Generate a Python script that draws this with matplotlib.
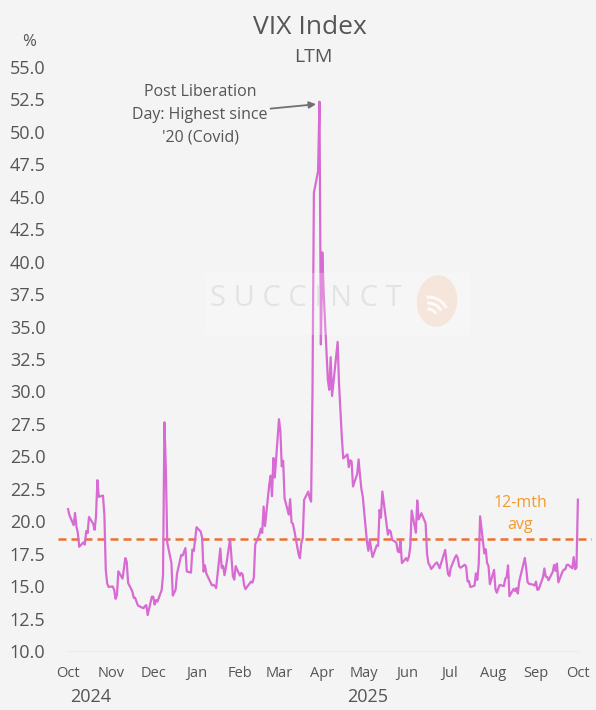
import numpy as np
import pandas as pd
import matplotlib
matplotlib.use("Agg")
import matplotlib.pyplot as plt
import matplotlib.dates as mdates
from matplotlib.patches import Rectangle, Ellipse, Arc

plt.rcParams['font.family'] = ['Open Sans', 'DejaVu Sans']

# ---- data: VIX daily closes, Oct 10 2024 - Oct 10 2025 ----
start_date = "2024-10-10"
end_date = "2025-10-10"
market_holidays = ["2024-11-28", "2024-12-25", "2025-01-01", "2025-01-09", "2025-01-20",
                   "2025-02-17", "2025-04-18", "2025-05-26", "2025-06-19", "2025-07-04",
                   "2025-09-01"]

oct24 = [20.93, 20.46, 19.70, 20.64, 19.58, 19.11, 18.03, 18.37, 18.20, 19.24, 19.08, 20.33,
         19.80, 19.34, 20.35, 23.16]
nov24 = [21.88, 21.98, 20.49, 16.27, 15.20, 14.94, 14.97, 14.71, 14.02, 14.31, 16.14, 15.58,
         16.35, 17.16, 16.87, 15.24, 14.60, 14.10, 14.10, 13.51]
dec24 = [13.34, 13.30, 13.45, 13.54, 12.77, 14.19, 14.18, 13.58, 13.92, 13.81, 14.69, 15.87,
         27.62, 24.09, 18.36, 16.78, 14.27, 14.73, 15.95, 17.40, 17.35]
jan25 = [17.93, 16.13, 16.04, 17.82, 17.70, 19.54, 19.19, 18.71, 16.12, 16.60, 15.97, 15.06,
         15.10, 15.02, 14.85, 17.90, 16.41, 16.56, 15.84, 16.43]
feb25 = [18.62, 17.21, 15.77, 15.50, 16.54, 15.81, 16.02, 15.89, 15.10, 14.77, 15.35, 15.27,
         15.66, 18.21, 18.98, 19.43, 19.10, 21.13, 19.63]
mar25 = [22.78, 23.51, 21.93, 24.87, 23.37, 27.86, 26.92, 24.23, 24.66, 21.77, 20.51, 21.70,
         19.90, 19.80, 19.28, 17.48, 17.15, 18.33, 18.69, 21.65, 22.28]
apr25 = [21.77, 21.51, 30.02, 45.31, 46.98, 52.33, 33.62, 40.72, 37.56, 30.89, 30.12, 32.64,
         29.65, 33.82, 30.57, 28.45, 26.47, 24.84, 25.15, 24.17, 24.70]
may25 = [24.60, 22.68, 23.64, 24.76, 23.55, 22.48, 21.90, 18.39, 17.72, 18.62, 17.83, 17.24,
         18.14, 18.09, 20.87, 20.28, 22.29, 18.96, 19.31, 19.18, 18.57]
jun25 = [18.36, 17.69, 17.61, 18.48, 16.77, 17.16, 16.95, 17.26, 18.02, 20.82, 19.11, 21.60,
         20.14, 20.62, 19.83, 17.48, 16.76, 16.59, 16.32, 16.73]
jul25 = [16.83, 16.64, 16.38, 17.79, 16.81, 15.94, 15.78, 16.40, 17.20, 17.38, 17.16, 16.52,
         16.41, 16.65, 16.50, 15.37, 15.39, 14.93, 15.03, 15.98, 15.48, 16.72]
aug25 = [20.38, 17.52, 17.85, 16.77, 16.57, 15.15, 16.25, 14.73, 14.49, 14.83, 15.09, 15.00,
         15.57, 15.69, 16.60, 14.22, 14.79, 14.62, 14.85, 14.43, 15.36]
sep25 = [17.17, 16.35, 15.30, 15.18, 15.11, 15.04, 15.35, 14.71, 14.76, 15.69, 16.36, 15.72,
         15.70, 15.45, 16.10, 16.64, 16.18, 16.74, 15.29, 16.12, 16.28]
oct25 = [16.29, 16.63, 16.65, 16.37, 17.24, 16.30, 16.43, 21.66]

avg_12m = 18.62

month_ticks = ["2024-10-10", "2024-11-10", "2024-12-10", "2025-01-10", "2025-02-10",
               "2025-03-10", "2025-04-10", "2025-05-10", "2025-06-10", "2025-07-10",
               "2025-08-10", "2025-09-10", "2025-10-10"]
month_labels = ["Oct", "Nov", "Dec", "Jan", "Feb", "Mar", "Apr", "May", "Jun", "Jul",
                "Aug", "Sep", "Oct"]
y_ticks = np.arange(10.0, 55.01, 2.5)

# ---- build series ----
vix = oct24 + nov24 + dec24 + jan25 + feb25 + mar25 + apr25 + may25 + jun25 + jul25 + aug25 + sep25 + oct25
dates = pd.bdate_range(start_date, end_date)
dates = dates[~dates.isin(pd.to_datetime(market_holidays))]
n = min(len(dates), len(vix))
dates = dates[:n]
vix = vix[:n]

BG = "#F4F4F4"
TXT = "#555555"
W, H = 596, 710
fig = plt.figure(figsize=(W / 100, H / 100), dpi=100, facecolor=BG)

ax_l, ax_r, ax_b, ax_t = 58, 592, 651, 67
ax = fig.add_axes([ax_l / W, 1 - ax_b / H, (ax_r - ax_l) / W, (ax_b - ax_t) / H])
ax.set_facecolor(BG)

t0 = pd.Timestamp(start_date)
ax.set_xlim(t0 - pd.Timedelta(days=7.2), t0 + pd.Timedelta(days=375.1))
ax.set_ylim(10, 55)

ax.axhline(avg_12m, color="#EB7035", lw=1.8, linestyle=(0, (3.2, 2.0)), zorder=2)
ax.plot(dates, vix, color="#D86BD3", lw=1.6, zorder=3)

# watermark (semi-transparent, over the line)
ft = fig.transFigure
ax.add_patch(Rectangle((205 / W, 1 - 335 / H), 265 / W, 62 / H, transform=ft,
                       facecolor="white", alpha=0.22, edgecolor="none", zorder=4))
ax.text(306 / W, 1 - 299 / H, "S U C C I N C T", transform=ft, color="#DCDCDC", alpha=0.7,
        fontsize=21, ha="center", va="center", zorder=5)
ax.add_patch(Ellipse((437 / W, 1 - 301 / H), 40 / W, 52 / H, angle=-18, transform=ft,
                     facecolor="#F5E2D6", alpha=0.85, edgecolor="none", zorder=5))
for r in (9, 15, 21):
    ax.add_patch(Arc((428 / W, 1 - 318 / H), 2 * r / W, 2 * r / H, angle=0, theta1=25, theta2=95,
                     transform=ft, color="white", lw=2.2, alpha=0.8, zorder=6))

ax.set_yticks(y_ticks)
ax.set_yticklabels([f"{v:.1f}" for v in y_ticks], fontsize=13, color=TXT)
ax.set_xticks(pd.to_datetime(month_ticks))
ax.set_xticklabels(month_labels, fontsize=10.5, color=TXT)
ax.tick_params(axis="both", length=0)
ax.tick_params(axis="y", pad=9)
ax.tick_params(axis="x", pad=11)
for s in ["top", "right", "left"]:
    ax.spines[s].set_visible(False)
ax.spines["bottom"].set_color("#EAEAEA")
ax.spines["bottom"].set_linewidth(0.8)
ax.spines["bottom"].set_bounds(mdates.date2num(t0), mdates.date2num(t0 + pd.Timedelta(days=365)))

# titles
fig.text(310 / W, 1 - 27 / H, "VIX Index", fontsize=19, color=TXT, ha="center", va="center")
fig.text(313 / W, 1 - 57 / H, "LTM", fontsize=14, color=TXT, ha="center", va="center")
fig.text(29 / W, 1 - 42 / H, "%", fontsize=12, color=TXT, ha="center", va="center")

# year labels
fig.text(91 / W, 1 - 697 / H, "2024", fontsize=13, color=TXT, ha="center", va="center")
fig.text(368 / W, 1 - 697 / H, "2025", fontsize=13, color=TXT, ha="center", va="center")

# annotation
peak_i = int(np.argmax(vix))
ax.annotate("Post Liberation\nDay: Highest since\n'20 (Covid)",
            xy=(dates[peak_i] - pd.Timedelta(days=2.5), vix[peak_i] - 0.2),
            xytext=(200 / W, 1 - 115 / H), textcoords="figure fraction",
            ha="center", va="center", fontsize=11.5, color=TXT, linespacing=1.55,
            arrowprops=dict(arrowstyle="-|>", color="#707070", lw=1.3,
                            mutation_scale=10, shrinkA=0, shrinkB=0,
                            relpos=(1.0, 0.6)))

fig.text(520 / W, 1 - 514 / H, "12-mth\navg", fontsize=11.5, color="#F29A2E",
         ha="center", va="center", linespacing=1.45)

fig.savefig("out.png", dpi=100, facecolor=BG)
